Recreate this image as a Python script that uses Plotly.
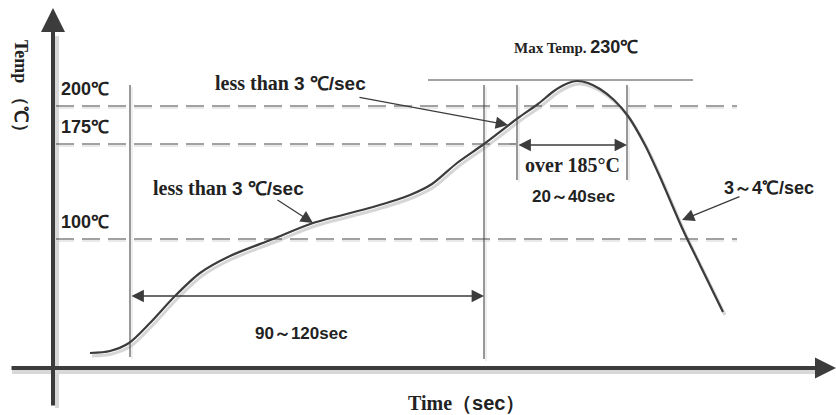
import plotly.graph_objects as go

# ---- data (diagram units: x = horizontal position, y = vertical position, top-down) ----
curve_x = [90, 110, 129, 150, 175, 200, 230, 273, 313, 373, 410, 432, 457, 484, 518, 538, 554, 566, 577, 588, 600, 614, 628, 645, 660, 683, 700, 723]
curve_y = [353, 351, 343, 323, 296, 273, 256, 239, 223, 207, 195, 184, 163, 144, 118, 104, 91, 84, 81, 83, 89, 100, 116, 145, 177, 230, 265, 312]

level_labels = ["200℃", "175℃", "100℃"]
level_pos = [106, 144, 239]
level_end = [737, 517, 737]

marker_x = [130, 484, 517, 627]
marker_top = [85, 85, 85, 85]
marker_bottom = [357, 359, 180, 180]

peak_line_x = [428, 693]
peak_line_y = [80, 80]

SERIF = "Liberation Serif"
SANS = "Liberation Sans"
INK = "#222222"
LINE = "#3c3c3c"

fig = go.Figure()

# curve shadow + curve
fig.add_trace(go.Scatter(x=[v + 2 for v in curve_x], y=[v + 3 for v in curve_y], mode="lines",
                         line=dict(color="#d6d6d6", width=3, shape="spline", smoothing=0.8),
                         hoverinfo="skip", showlegend=False))
fig.add_trace(go.Scatter(x=curve_x, y=curve_y, mode="lines",
                         line=dict(color=LINE, width=2.2, shape="spline", smoothing=0.8),
                         hoverinfo="skip", showlegend=False))

shapes = []
# dashed temperature levels
for pos, end in zip(level_pos, level_end):
    shapes.append(dict(type="line", xref="x", yref="y", x0=56, x1=end, y0=pos + 2, y1=pos + 2,
                       line=dict(color="#e2e2e2", width=1.3, dash="18px,8px"), layer="below"))
    shapes.append(dict(type="line", xref="x", yref="y", x0=56, x1=end, y0=pos, y1=pos,
                       line=dict(color="#444444", width=1.2, dash="18px,8px")))
# vertical marker lines
for mx, t, b in zip(marker_x, marker_top, marker_bottom):
    shapes.append(dict(type="line", xref="x", yref="y", x0=mx + 2, x1=mx + 2, y0=t + 2, y1=b + 2,
                       line=dict(color="#e4e4e4", width=1.2), layer="below"))
    shapes.append(dict(type="line", xref="x", yref="y", x0=mx, x1=mx, y0=t, y1=b,
                       line=dict(color="#444444", width=1.1)))
# peak line
shapes.append(dict(type="line", xref="x", yref="y", x0=peak_line_x[0], x1=peak_line_x[1],
                   y0=peak_line_y[0], y1=peak_line_y[1], line=dict(color="#444444", width=1.2)))
# axis shadows
shapes.append(dict(type="line", xref="x", yref="y", x0=12, x1=815, y0=372, y1=372,
                   line=dict(color="#d8d8d8", width=4), layer="below"))
shapes.append(dict(type="line", xref="x", yref="y", x0=57, x1=57, y0=36, y1=408,
                   line=dict(color="#d8d8d8", width=4), layer="below"))

annotations = []

def arrow(tip, tail, width=1.3, size=1.9, both=False):
    d = dict(x=tip[0], y=tip[1], ax=tail[0], ay=tail[1], xref="x", yref="y", axref="x", ayref="y",
             text="", showarrow=True, arrowhead=2, arrowsize=size, arrowwidth=width, arrowcolor=LINE)
    if both:
        d.update(arrowside="end+start", startarrowhead=2, startarrowsize=size)
    annotations.append(d)

# axes with arrowheads
arrow((53, 8), (53, 407), width=4, size=1.2)
arrow((836, 368), (10, 368), width=4, size=1.05)

# slope arrows
arrow((508, 125), (358, 97))
arrow((313, 223), (276, 199))
arrow((682, 220), (741, 196))
# span arrows
arrow((484, 296), (130, 296), both=True)
arrow((627, 145), (517, 145), both=True)

def label(x, y, html, size=15, family=SERIF, angle=0, xanchor="center"):
    annotations.append(dict(x=x, y=y, xref="x", yref="y", text=html, showarrow=False,
                            xanchor=xanchor, yanchor="middle", textangle=angle,
                            font=dict(family=family, size=size, color=INK)))

def sans(t, size=None):
    sz = f";font-size:{size}px" if size else ""
    return f"<span style='font-family:{SANS}{sz}'>{t}</span>"

for txt, pos in zip(level_labels, level_pos):
    label(59, pos - 17, "<b>" + txt + "</b>", size=18, family=SANS, xanchor="left")

label(290, 83, "<b>less than " + sans("3 ℃/sec", 19) + "</b>", size=20)
label(228, 188, "<b>less than " + sans("3 ℃/sec", 19) + "</b>", size=20)
label(576, 47, "<b>Max Temp. " + sans("230℃", 18) + "</b>", size=15)
label(572, 165, "<b>over 185°C</b>", size=20)
label(573, 196, "<b>20～40sec</b>", size=17, family=SANS)
label(769, 188, "<b>3～4℃/sec</b>", size=18, family=SANS)
label(301, 333, "<b>90～120sec</b>", size=17, family=SANS)
label(466, 403, "<b>Time（" + sans("sec") + "）</b>", size=20)
label(21, 90, "<b>Temp （℃）</b>", size=18, angle=90)

fig.update_layout(
    width=836, height=415,
    margin=dict(l=0, r=0, t=0, b=0),
    paper_bgcolor="white", plot_bgcolor="white",
    xaxis=dict(range=[0, 836], visible=False, fixedrange=True),
    yaxis=dict(range=[415, 0], visible=False, fixedrange=True),
    shapes=shapes, annotations=annotations, showlegend=False,
)

fig.write_html("out.html", config={"displayModeBar": False},
               post_script="document.body.style.margin='0';document.body.style.overflow='hidden';")
